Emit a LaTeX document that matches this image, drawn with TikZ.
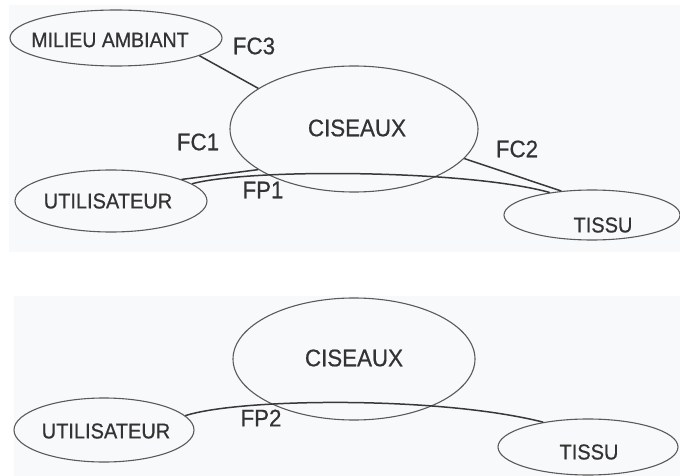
\documentclass[tikz,border=0pt]{standalone}
\usepackage{fontspec}
\setmainfont[FakeBold=0.6, FakeStretch=0.93]{Liberation Sans}
\usetikzlibrary{shapes.geometric}
\definecolor{panel}{HTML}{F8F9FB}
\definecolor{ink}{HTML}{333333}
\definecolor{edge}{HTML}{5A5A5A}
\definecolor{wire}{HTML}{383838}
\tikzset{
  entity/.style={draw=edge, line width=1.1pt, ellipse, inner sep=0pt, text=ink},
  lbl/.style={text=ink, inner sep=0pt, font=\fontsize{24}{27}\selectfont},
  nametxt/.style={text=ink, inner sep=0pt},
  link/.style={draw=wire, line width=1.5pt},
  panelbox/.style={fill=panel, draw=none}
}
\begin{document}
\begin{tikzpicture}[x=1pt, y=-1pt]
\useasboundingbox (0,0) rectangle (680,476);
\fill[white] (0,0) rectangle (680,476);
\path[panelbox] (9,5) rectangle (680,252);
\path[panelbox] (14,296) rectangle (680,476);

% top panel
\node[entity, minimum width=212pt, minimum height=56pt] (mil) at (116,38) {};
\node[nametxt, font=\fontsize{21}{24}\selectfont] (miltxt) at (110,40) {MILIEU AMBIANT};
\node[entity, minimum width=248pt, minimum height=126pt] (cis) at (354,129) {};
\node[nametxt, font=\fontsize{24}{28}\selectfont] (cistxt) at (357,128) {CISEAUX};
\node[entity, minimum width=192pt, minimum height=62pt] (uti) at (111,201) {};
\node[nametxt, font=\fontsize{21.5}{24}\selectfont] (utitxt) at (108,201) {UTILISATEUR};
\node[entity, minimum width=176pt, minimum height=50pt] (tis) at (592,215) {};
\node[nametxt, font=\fontsize{21.5}{24}\selectfont] (tistxt) at (603,225) {TISSU};

\draw[link] (mil.-12) -- (cis.157);
\draw[link] (uti.17) -- (cis.203);
\draw[link] (uti.12) .. controls (250,168) and (470,170) .. (tis.152);
\draw[link] (cis.-15) -- (tis.142);

\node[lbl] (fc3) at (254,46) {FC3};
\node[lbl] (fc1) at (198,142) {FC1};
\node[lbl] (fp1) at (263,190) {FP1};
\node[lbl] (fc2) at (517,149) {FC2};

% bottom panel
\node[entity, minimum width=242pt, minimum height=122pt] (cisb) at (354,359) {};
\node[nametxt, font=\fontsize{24}{28}\selectfont] (cisbtxt) at (354,358) {CISEAUX};
\node[entity, minimum width=180pt, minimum height=64pt] (utib) at (104,430) {};
\node[nametxt, font=\fontsize{21.5}{24}\selectfont] (utibtxt) at (106,431) {UTILISATEUR};
\node[entity, minimum width=180pt, minimum height=56pt] (tisb) at (588,447) {};
\node[nametxt, font=\fontsize{21.5}{24}\selectfont] (tisbtxt) at (589,452) {TISSU};

\draw[link] (utib.10) .. controls (240,398) and (440,396) .. (tisb.151.5);
\node[lbl] (fp2) at (261,418) {FP2};
\end{tikzpicture}
\end{document}
